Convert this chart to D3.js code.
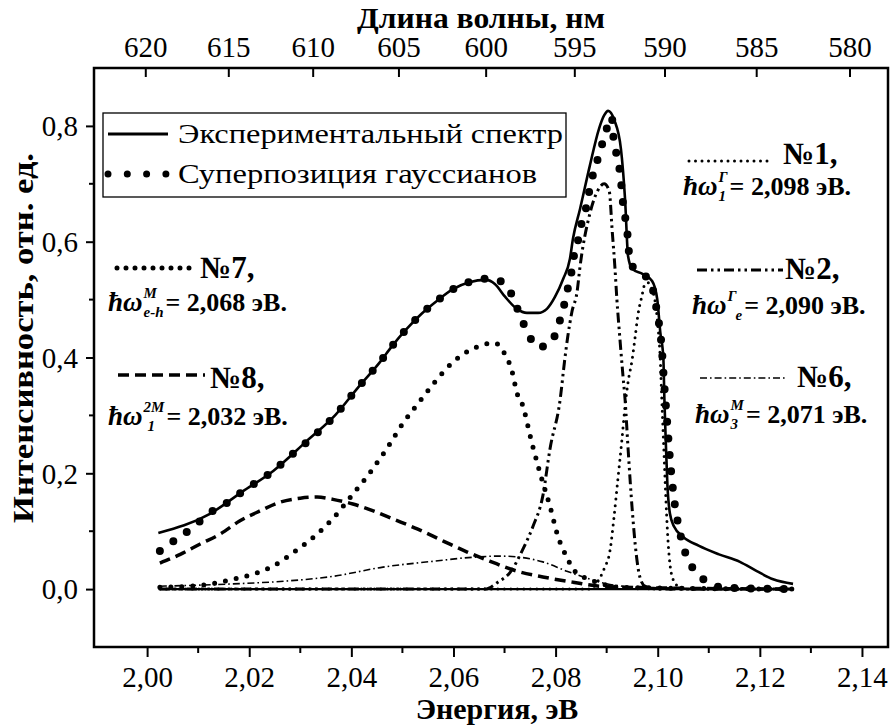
<!DOCTYPE html>
<html>
<head>
<meta charset="utf-8">
<script src="https://cdn.jsdelivr.net/npm/d3@7"></script>
</head>
<body style="margin:0;background:#fff">
<script>
// energy (eV), intensity (rel. units)
var experimental = [[2.0022,0.097],[2.0123,0.130],[2.0186,0.168],[2.0247,0.204],[2.0313,0.256],[2.0368,0.300],[2.0413,0.348],[2.0456,0.392],[2.0480,0.420],[2.0507,0.448],[2.0537,0.475],[2.0568,0.498],[2.0599,0.518],[2.0631,0.530],[2.0664,0.534],[2.0681,0.527],[2.0701,0.505],[2.0724,0.484],[2.0744,0.477],[2.0766,0.477],[2.0783,0.484],[2.0799,0.505],[2.0815,0.536],[2.0828,0.570],[2.0834,0.605],[2.0848,0.657],[2.0867,0.731],[2.0885,0.795],[2.0895,0.818],[2.0903,0.826],[2.0915,0.810],[2.0928,0.760],[2.0936,0.674],[2.0942,0.575],[2.0950,0.553],[2.0971,0.544],[2.0989,0.532],[2.0999,0.501],[2.1005,0.444],[2.1011,0.400],[2.1013,0.330],[2.1016,0.250],[2.1019,0.180],[2.1024,0.130],[2.1032,0.108],[2.1050,0.090],[2.1080,0.075],[2.1120,0.060],[2.1161,0.047],[2.1194,0.031],[2.1226,0.017],[2.1265,0.009]]

var superposition = [[2.0025,0.066],[2.0057,0.086],[2.0090,0.107],[2.0120,0.130],[2.0153,0.147],[2.0186,0.168],[2.0215,0.185],[2.0247,0.204],[2.0278,0.228],[2.0313,0.254],[2.0368,0.300],[2.0413,0.348],[2.0456,0.392],[2.0480,0.420],[2.0507,0.448],[2.0537,0.475],[2.0568,0.498],[2.0599,0.518],[2.0630,0.530],[2.0664,0.536],[2.0697,0.530],[2.0717,0.503],[2.0730,0.473],[2.0744,0.446],[2.0764,0.418],[2.0780,0.420],[2.0793,0.428],[2.0805,0.455],[2.0815,0.484],[2.0822,0.513],[2.0830,0.541],[2.0834,0.567],[2.0842,0.593],[2.0848,0.622],[2.0858,0.651],[2.0864,0.679],[2.0871,0.708],[2.0881,0.738],[2.0890,0.765],[2.0900,0.795],[2.0910,0.816],[2.0913,0.783],[2.0920,0.748],[2.0926,0.720],[2.0930,0.686],[2.0933,0.657],[2.0940,0.622],[2.0943,0.587],[2.0950,0.558],[2.0970,0.544],[2.0985,0.532],[2.0995,0.498],[2.1000,0.470],[2.1005,0.444],[2.1008,0.415],[2.1012,0.363],[2.1018,0.294],[2.1024,0.225],[2.1032,0.156],[2.1042,0.104],[2.1055,0.060],[2.1073,0.031],[2.1098,0.012],[2.1126,0.003],[2.1265,0.000]]

// gaussian components
var comp1 = [[2.0025,0],[2.0867,0.000],[2.0883,0.014],[2.0895,0.035],[2.0907,0.069],[2.0914,0.121],[2.0922,0.190],[2.0930,0.259],[2.0936,0.316],[2.0942,0.358],[2.0950,0.397],[2.0956,0.437],[2.0961,0.472],[2.0969,0.506],[2.0975,0.527],[2.0981,0.529],[2.0989,0.518],[2.0997,0.484],[2.1001,0.449],[2.1005,0.397],[2.1008,0.328],[2.1012,0.242],[2.1016,0.156],[2.1020,0.086],[2.1024,0.043],[2.1030,0.017],[2.1040,0.005],[2.1065,0],[2.1265,0]]
var comp2 = [[2.0025,0],[2.0662,0.000],[2.0687,0.012],[2.0711,0.029],[2.0736,0.069],[2.0756,0.109],[2.0775,0.161],[2.0789,0.242],[2.0809,0.328],[2.0818,0.397],[2.0824,0.437],[2.0832,0.479],[2.0842,0.513],[2.0848,0.558],[2.0867,0.648],[2.0883,0.689],[2.0895,0.700],[2.0905,0.688],[2.0911,0.617],[2.0916,0.558],[2.0920,0.501],[2.0926,0.432],[2.0932,0.368],[2.0936,0.328],[2.0942,0.242],[2.0950,0.138],[2.0958,0.060],[2.0965,0.021],[2.0975,0.005],[2.1000,0],[2.1265,0]]
var comp6 = [[2.0025,0.005],[2.0168,0.009],[2.0274,0.014],[2.0364,0.022],[2.0462,0.038],[2.0560,0.048],[2.0638,0.055],[2.0691,0.057],[2.0730,0.055],[2.0775,0.047],[2.0822,0.031],[2.0854,0.021],[2.0887,0.012],[2.0965,0.003],[2.1265,0]]
var comp7 = [[2.0025,0.003],[2.0100,0.006],[2.0168,0.017],[2.0208,0.026],[2.0247,0.040],[2.0288,0.064],[2.0329,0.092],[2.0366,0.124],[2.0401,0.162],[2.0433,0.197],[2.0462,0.233],[2.0474,0.249],[2.0500,0.285],[2.0531,0.321],[2.0562,0.356],[2.0599,0.392],[2.0640,0.416],[2.0681,0.425],[2.0697,0.411],[2.0715,0.375],[2.0725,0.337],[2.0734,0.321],[2.0754,0.251],[2.0770,0.199],[2.0789,0.143],[2.0805,0.090],[2.0822,0.055],[2.0834,0.035],[2.0854,0.021],[2.0881,0.012],[2.0926,0.003],[2.1265,0]]
var comp8 = [[2.0025,0.045],[2.0065,0.060],[2.0104,0.078],[2.0143,0.095],[2.0182,0.118],[2.0221,0.135],[2.0260,0.150],[2.0300,0.157],[2.0333,0.159],[2.0364,0.155],[2.0403,0.147],[2.0443,0.135],[2.0482,0.121],[2.0529,0.104],[2.0580,0.083],[2.0627,0.064],[2.0672,0.048],[2.0724,0.031],[2.0775,0.021],[2.0834,0.012],[2.0887,0.005],[2.1000,0.002],[2.1265,0]]
var zeroLine = [[2.0025,0],[2.1265,0]]

var energyTicks = [2.00, 2.02, 2.04, 2.06, 2.08, 2.10, 2.12, 2.14]
var energyMinor = [2.01, 2.03, 2.05, 2.07, 2.09, 2.11, 2.13]
var intensityTicks = [0, 0.2, 0.4, 0.6, 0.8]
var intensityMinor = [0.1, 0.3, 0.5, 0.7]
var wavelengthTicks = [620, 615, 610, 605, 600, 595, 590, 585, 580]

var width = 794
var height = 579
var FONT = '"Liberation Serif"'

var ru = d3.formatLocale({ decimal: ',', thousands: ' ', grouping: [3], currency: ['', ''] })
var fmtE = ru.format('.2f')
var fmtI = ru.format('.1f')

var x = d3.scaleLinear().domain([1.9896, 2.1451]).range([94, 94 + width])
var y = d3.scaleLinear().domain([-0.1, 0.9]).range([68 + height, 68])

var svg = d3.select('body').append('svg')
    .attr('width', 890)
    .attr('height', 726)
    .style('font-family', FONT)

function txt(parent, s, size, bold, italic) {
    return parent.append('text')
        .style('font-family', FONT)
        .style('font-size', size + 'px')
        .style('font-weight', bold ? 'bold' : 'normal')
        .style('font-style', italic ? 'italic' : 'normal')
        .attr('fill', '#000')
        .text(s)
}

// bottom axis
var xAxis = d3.axisBottom(x).tickValues(energyTicks).tickSize(10).tickFormat('')
var gx = svg.append('g')
    .attr('transform', 'translate(0,' + (68 + height) + ')')
    .call(xAxis)
gx.attr('font-family', null)
gx.selectAll('line').attr('stroke', '#000').attr('stroke-width', 2)
gx.select('.domain').remove()
gx.selectAll('.tick').each(function (d) {
    txt(d3.select(this), fmtE(d), 29).attr('y', 40).attr('text-anchor', 'middle')
})
gx.selectAll('.minor').data(energyMinor).enter().append('line')
    .attr('class', 'minor')
    .attr('x1', function (d) { return x(d) }).attr('x2', function (d) { return x(d) })
    .attr('y1', 0).attr('y2', 6)
    .attr('stroke', '#000').attr('stroke-width', 2)

// left axis
var yAxis = d3.axisLeft(y).tickValues(intensityTicks).tickSize(8).tickFormat('')
var gy = svg.append('g').attr('transform', 'translate(94,0)').call(yAxis)
gy.attr('font-family', null)
gy.selectAll('line').attr('stroke', '#000').attr('stroke-width', 2)
gy.select('.domain').remove()
gy.selectAll('.tick').each(function (d) {
    txt(d3.select(this), fmtI(d), 29).attr('x', -16).attr('dy', '0.34em').attr('text-anchor', 'end')
})
gy.selectAll('.minor').data(intensityMinor).enter().append('line')
    .attr('class', 'minor')
    .attr('y1', function (d) { return y(d) }).attr('y2', function (d) { return y(d) })
    .attr('x1', 0).attr('x2', -5)
    .attr('stroke', '#000').attr('stroke-width', 2)

// top axis: wavelength, nm (E = 1239.84 / lambda)
var wt = svg.selectAll('.wt').data(wavelengthTicks).enter().append('g')
    .attr('class', 'wt')
    .attr('transform', function (d) { return 'translate(' + x(1239.84 / d) + ',68)' })
wt.append('line').attr('y1', 0).attr('y2', 9).attr('stroke', '#000').attr('stroke-width', 2)
wt.each(function (d) {
    txt(d3.select(this), d, 29).attr('y', -11).attr('text-anchor', 'middle')
})

// curves
var line = d3.line()
    .x(function (d) { return x(d[0]) })
    .y(function (d) { return y(d[1]) })
    .curve(d3.curveMonotoneX)

var series = [
    { data: zeroLine, width: 2.2, dash: null, cap: 'butt' },
    { data: comp6, width: 1.6, dash: '7 3 1.6 3', cap: 'butt' },
    { data: comp8, width: 3.5, dash: '11 6', cap: 'butt' },
    { data: comp2, width: 3, dash: '10 4 2.5 4 2.5 4', cap: 'butt' },
    { data: comp7, width: 5, dash: '0 11', cap: 'round' },
    { data: comp1, width: 3, dash: '0 6.5', cap: 'round' },
    { data: experimental, width: 2.6, dash: null, cap: 'butt' },
    { data: superposition, width: 8, dash: '0 16.5', cap: 'round' }
]

svg.selectAll('.curve').data(series).enter().append('path')
    .attr('class', 'curve')
    .attr('d', function (d) { return line(d.data) })
    .attr('fill', 'none')
    .attr('stroke', '#000')
    .attr('stroke-width', function (d) { return d.width })
    .attr('stroke-dasharray', function (d) { return d.dash })
    .attr('stroke-linecap', function (d) { return d.cap })

// frame
svg.append('rect')
    .attr('x', 94).attr('y', 68)
    .attr('width', width).attr('height', height)
    .attr('fill', 'none').attr('stroke', '#000').attr('stroke-width', 2.5)

// axis titles
txt(svg, 'Длина волны, нм', 30, true).attr('x', 481).attr('y', 28).attr('text-anchor', 'middle')
    .attr('textLength', 248).attr('lengthAdjust', 'spacingAndGlyphs')
txt(svg, 'Энергия, эВ', 30, true).attr('x', 497).attr('y', 719).attr('text-anchor', 'middle')
txt(svg, 'Интенсивность, отн. ед.', 30, true)
    .attr('transform', 'translate(33,338) rotate(-90)').attr('text-anchor', 'middle')
    .attr('textLength', 370).attr('lengthAdjust', 'spacingAndGlyphs')

// legend
var seg = d3.line()
svg.append('rect').attr('x', 103).attr('y', 113).attr('width', 463).attr('height', 84)
    .attr('fill', '#fff').attr('stroke', '#000').attr('stroke-width', 1.3)
svg.append('path').attr('d', seg([[108, 134], [168, 134]]))
    .attr('stroke', '#000').attr('stroke-width', 3)
txt(svg, 'Экспериментальный спектр', 28).attr('x', 178).attr('y', 143)
    .attr('textLength', 385).attr('lengthAdjust', 'spacingAndGlyphs')
svg.append('path').attr('d', seg([[108, 174], [166, 174]]))
    .attr('stroke', '#000').attr('stroke-width', 7).attr('stroke-dasharray', '0 19.3').attr('stroke-linecap', 'round')
txt(svg, 'Суперпозиция гауссианов', 28).attr('x', 178).attr('y', 183)
    .attr('textLength', 359).attr('lengthAdjust', 'spacingAndGlyphs')

// component labels
function sample(x1, x2, yy, w, dash, cap) {
    svg.append('path').attr('d', seg([[x1, yy], [x2, yy]]))
        .attr('stroke', '#000').attr('stroke-width', w)
        .attr('stroke-dasharray', dash).attr('stroke-linecap', cap)
}
function label(xx, yy, s) {
    txt(svg, s, 31, true).attr('x', xx).attr('y', yy)
}
function formula(x0, yb, sup, sub, subDx, rest) {
    var t = txt(svg, 'ħω', 27, true, true).attr('x', x0).attr('y', yb)
    var w = t.node().getComputedTextLength()
    var s1 = txt(svg, sup, 15, true, true).attr('x', x0 + w + 1).attr('y', yb - 13)
    var s2 = txt(svg, sub, 15, true, true).attr('x', x0 + w + 1 + subDx).attr('y', yb + 6)
    var w2 = Math.max(s1.node().getComputedTextLength(), subDx + s2.node().getComputedTextLength())
    txt(svg, rest, 26, true).attr('x', x0 + w + w2 + 3).attr('y', yb)
}

sample(689, 770, 161, 3, '0 6.5', 'round')
label(783, 164, '№1,')
formula(683, 195, 'Г', '1', 0, ' = 2,098 эВ.')

sample(697, 783, 270, 3, '10 4 2.5 4 2.5 4', 'butt')
label(785, 279, '№2,')
formula(692, 314, 'Г', 'e', 8, '= 2,090 эВ.')

sample(700, 785, 378, 1.6, '7 3 1.6 3', 'butt')
label(797, 387, '№6,')
formula(695, 423, 'M', '3', 0, ' = 2,071 эВ.')

sample(117, 195, 268, 5, '0 9', 'round')
label(200, 278, '№7,')
formula(108, 311, 'M', 'e-h', 0, ' = 2,068 эВ.')

sample(118, 205, 375, 3.5, '11 6', 'butt')
label(210, 388, '№8,')
formula(108, 425, '2M', '1', 4, '= 2,032 эВ.')
</script>
</body>
</html>
